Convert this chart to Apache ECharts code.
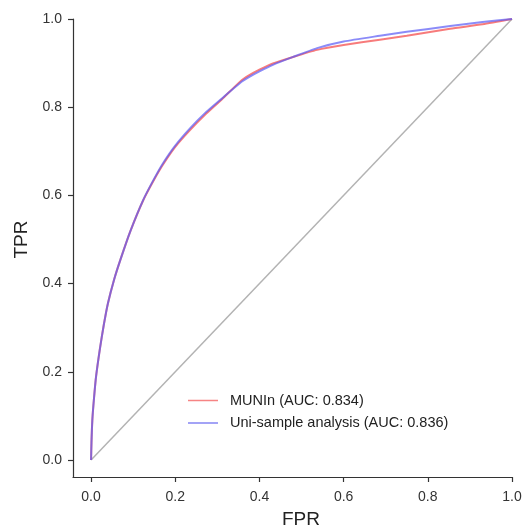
<!DOCTYPE html>
<html>
<head>
<meta charset="utf-8">
<script src="https://cdn.jsdelivr.net/npm/echarts@6/dist/echarts.min.js"></script>
<style>html,body{margin:0;padding:0;background:#fff}#c{width:522px;height:529px}</style>
</head>
<body>
<div id="c"></div>
<script>
const fprUni = [0, 0.001, 0.003, 0.007, 0.012, 0.021, 0.030, 0.040, 0.055, 0.070, 0.093, 0.124, 0.150, 0.171, 0.200, 0.235, 0.270, 0.311, 0.354, 0.375, 0.400, 0.432, 0.480, 0.537, 0.600, 0.686, 0.750, 0.853, 0.930, 1.0];
const tprUni = [0, 0.040, 0.090, 0.140, 0.190, 0.252, 0.305, 0.355, 0.410, 0.455, 0.518, 0.590, 0.638, 0.673, 0.713, 0.752, 0.786, 0.820, 0.855, 0.868, 0.881, 0.896, 0.914, 0.934, 0.949, 0.962, 0.971, 0.984, 0.993, 1.0];
const fprMun = [0, 0.001, 0.003, 0.007, 0.012, 0.021, 0.030, 0.040, 0.055, 0.070, 0.093, 0.124, 0.150, 0.171, 0.200, 0.235, 0.270, 0.311, 0.354, 0.375, 0.400, 0.432, 0.480, 0.537, 0.600, 0.686, 0.750, 0.853, 0.930, 1.0];
const tprMun = [0, 0.040, 0.090, 0.140, 0.190, 0.252, 0.305, 0.355, 0.410, 0.455, 0.518, 0.589, 0.636, 0.670, 0.710, 0.748, 0.782, 0.818, 0.858, 0.872, 0.885, 0.899, 0.914, 0.930, 0.941, 0.953, 0.962, 0.978, 0.988, 1.0];
const diagX = [0, 1];
const diagY = [0, 1];
const xTicks = [0, 0.2, 0.4, 0.6, 0.8, 1.0];
const yTicks = [0, 0.2, 0.4, 0.6, 0.8, 1.0];
const seriesNames = ['MUNIn (AUC: 0.834)', 'Uni-sample analysis (AUC: 0.836)'];

const zip = (xs, ys) => xs.map((x, i) => [x, ys[i]]);
const FONT = 'Liberation Sans';
const chart = echarts.init(document.getElementById('c'), null, {renderer: 'canvas'});
const axisCommon = {
  type: 'value',
  max: 1,
  axisLine: {show: true, onZero: false, lineStyle: {color: '#333', width: 1.2}},
  splitLine: {show: false},
  nameLocation: 'middle',
  nameTextStyle: {fontFamily: FONT, fontSize: 19, color: '#222', padding: [0, 0, 0, 17]},
};
chart.setOption({
  animation: false,
  backgroundColor: '#fff',
  grid: {left: 73, right: 10, top: 19, bottom: 52, containLabel: false, outerBoundsMode: 'none'},
  xAxis: Object.assign({}, axisCommon, {
    min: -0.0429,
    name: 'FPR',
    nameGap: 33,
    axisTick: {show: true, inside: false, length: 5, customValues: xTicks, lineStyle: {color: '#333', width: 1.2}},
    axisLabel: {customValues: xTicks, margin: 13, fontFamily: FONT, fontSize: 14, color: '#333', formatter: v => v.toFixed(1)}
  }),
  yAxis: Object.assign({}, axisCommon, {
    min: -0.0385,
    name: 'TPR',
    nameGap: 40,
    axisTick: {show: true, inside: false, length: 5, customValues: yTicks, lineStyle: {color: '#333', width: 1.2}},
    axisLabel: {customValues: yTicks, margin: 11, fontFamily: FONT, fontSize: 14, color: '#333', formatter: v => v.toFixed(1)}
  }),
  legend: {
    data: seriesNames,
    orient: 'vertical',
    left: 183,
    top: 388,
    itemWidth: 30,
    itemHeight: 14,
    itemGap: 7.5,
    icon: 'path://M0,0 L30,0 L30,1.5 L0,1.5 Z',
    textStyle: {fontFamily: FONT, fontSize: 14.5, color: '#222', padding: [0, 0, 0, 7]}
  },
  series: [
    {
      type: 'line', name: 'diag', data: zip(diagX, diagY), symbol: 'none', silent: true,
      lineStyle: {color: '#b3b3b3', width: 1.5}, z: 1
    },
    {
      type: 'line', name: seriesNames[0], data: zip(fprMun, tprMun), symbol: 'none', smooth: 0.2,
      itemStyle: {color: 'rgba(245,110,110,0.85)'},
      lineStyle: {color: 'rgba(245,90,90,0.8)', width: 2}, z: 2
    },
    {
      type: 'line', name: seriesNames[1], data: zip(fprUni, tprUni), symbol: 'none', smooth: 0.2,
      itemStyle: {color: 'rgba(110,110,240,0.85)'},
      lineStyle: {color: 'rgba(90,90,245,0.7)', width: 2}, z: 3
    }
  ]
});
</script>
</body>
</html>
